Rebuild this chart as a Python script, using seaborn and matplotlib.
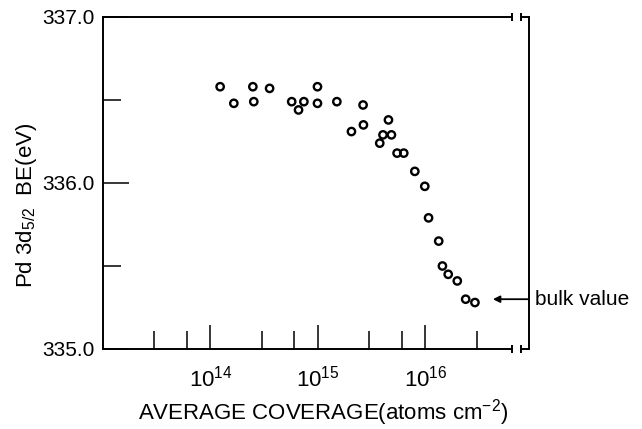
import matplotlib
matplotlib.use("Agg")
import matplotlib.pyplot as plt
import numpy as np
import pandas as pd
import seaborn as sns

# Values
coverage = [1.23e14, 1.65e14, 2.48e14, 2.53e14, 3.55e14, 5.7e14, 6.6e14, 7.4e14,
            9.9e14, 9.9e14, 1.5e15, 2.05e15, 2.63e15, 2.65e15, 3.76e15, 4.03e15,
            4.53e15, 4.83e15, 5.45e15, 6.29e15, 7.97e15, 9.87e15, 1.07e16,
            1.33e16, 1.44e16, 1.63e16, 1.98e16, 2.37e16, 2.89e16]
binding_energy = [336.58, 336.48, 336.58, 336.49, 336.57, 336.49, 336.44, 336.49,
                  336.58, 336.48, 336.49, 336.31, 336.47, 336.35, 336.24, 336.29,
                  336.38, 336.29, 336.18, 336.18, 336.07, 335.98, 335.79,
                  335.65, 335.50, 335.45, 335.41, 335.30, 335.28]
bulk_value = 335.3

y_major = [335.0, 336.0, 337.0]
y_minor = [335.5, 336.5]
x_major = [1e14, 1e15, 1e16]
x_major_labels = ["$10^{14}$", "$10^{15}$", "$10^{16}$"]
x_minor = [3e13, 6e13, 3e14, 6e14, 3e15, 6e15, 3e16]

data = pd.DataFrame({"coverage": coverage, "be": binding_energy})

sns.set_style("ticks", {"text.color": "black", "xtick.color": "black",
                        "ytick.color": "black", "axes.edgecolor": "black"})
plt.rcParams["font.family"] = ["Liberation Sans", "DejaVu Sans"]
plt.rcParams["mathtext.fontset"] = "custom"
plt.rcParams["mathtext.rm"] = "Liberation Sans"
plt.rcParams["mathtext.it"] = "Liberation Sans"

fig = plt.figure(figsize=(6.42, 4.29), dpi=100)
ax = fig.add_axes([103 / 642, 1 - 349 / 429, 426 / 642, 332 / 429])

sns.scatterplot(data=data, x="coverage", y="be", ax=ax, marker="o",
                s=28, facecolor="none", edgecolor="black", linewidth=1.7,
                legend=False)

x_lo, x_hi = 1e13, 10 ** 16.964
brk1, brk2 = 10 ** 16.805, 10 ** 16.889
ax.set_xscale("log")
ax.set_xlim(x_lo, x_hi)
ax.set_ylim(335.0, 337.0)

# Axis frame with the break on the right
for side in ["left", "right", "top", "bottom"]:
    ax.spines[side].set_linewidth(1.4)
    ax.spines[side].set_color("black")
ax.spines["bottom"].set_bounds(x_lo, brk1)
ax.spines["top"].set_bounds(x_lo, brk1)
for yv in [335.0, 337.0]:
    ax.plot([brk2, x_hi], [yv, yv], color="black", lw=1.4, clip_on=False)
    ax.plot([brk1, brk2], [yv, yv], ls="none", marker="|", ms=6, mew=1.4,
            color="black", clip_on=False)

ax.set_yticks(y_major)
ax.set_yticks(y_minor, minor=True)
ax.set_yticklabels([f"{v:.1f}" for v in y_major])
ax.set_xticks(x_major)
ax.set_xticklabels(x_major_labels)
ax.set_xticks(x_minor, minor=True)
ax.set_xticklabels([], minor=True)

ax.tick_params(axis="y", which="major", direction="in", length=19, width=1.1,
               labelsize=15, pad=6, colors="black")
ax.tick_params(axis="y", which="minor", direction="in", length=13, width=1.1,
               colors="black")
ax.tick_params(axis="x", which="major", direction="in", length=17, width=1.1,
               labelsize=16, pad=12, colors="black")
ax.tick_params(axis="x", which="minor", direction="in", length=13, width=1.1,
               colors="black")
ax.tick_params(top=False, right=False, which="both")

ax.set_xlabel("")
ax.set_ylabel("")

# Bulk value arrow
ax.annotate("", xy=(10 ** 16.628, bulk_value), xytext=(x_hi, bulk_value),
            arrowprops=dict(arrowstyle="-|>", color="black", lw=1.3,
                            mutation_scale=10, shrinkA=0, shrinkB=0),
            annotation_clip=False)
ax.annotate("bulk value", xy=(x_hi, bulk_value), xytext=(4, 0),
            textcoords="offset points", ha="left", va="center", fontsize=15,
            color="black", annotation_clip=False)

fig.text(323 / 642, 1 - 413 / 429, "AVERAGE COVERAGE(atoms cm$^{-2}$)",
         ha="center", va="center", fontsize=16, color="black")
fig.text(27 / 642, 1 - 205 / 429, "Pd 3d$_{5/2}$  BE(eV)", rotation=90,
         ha="center", va="center", fontsize=16, color="black")

plt.savefig("out.png", dpi=100)
plt.close()
